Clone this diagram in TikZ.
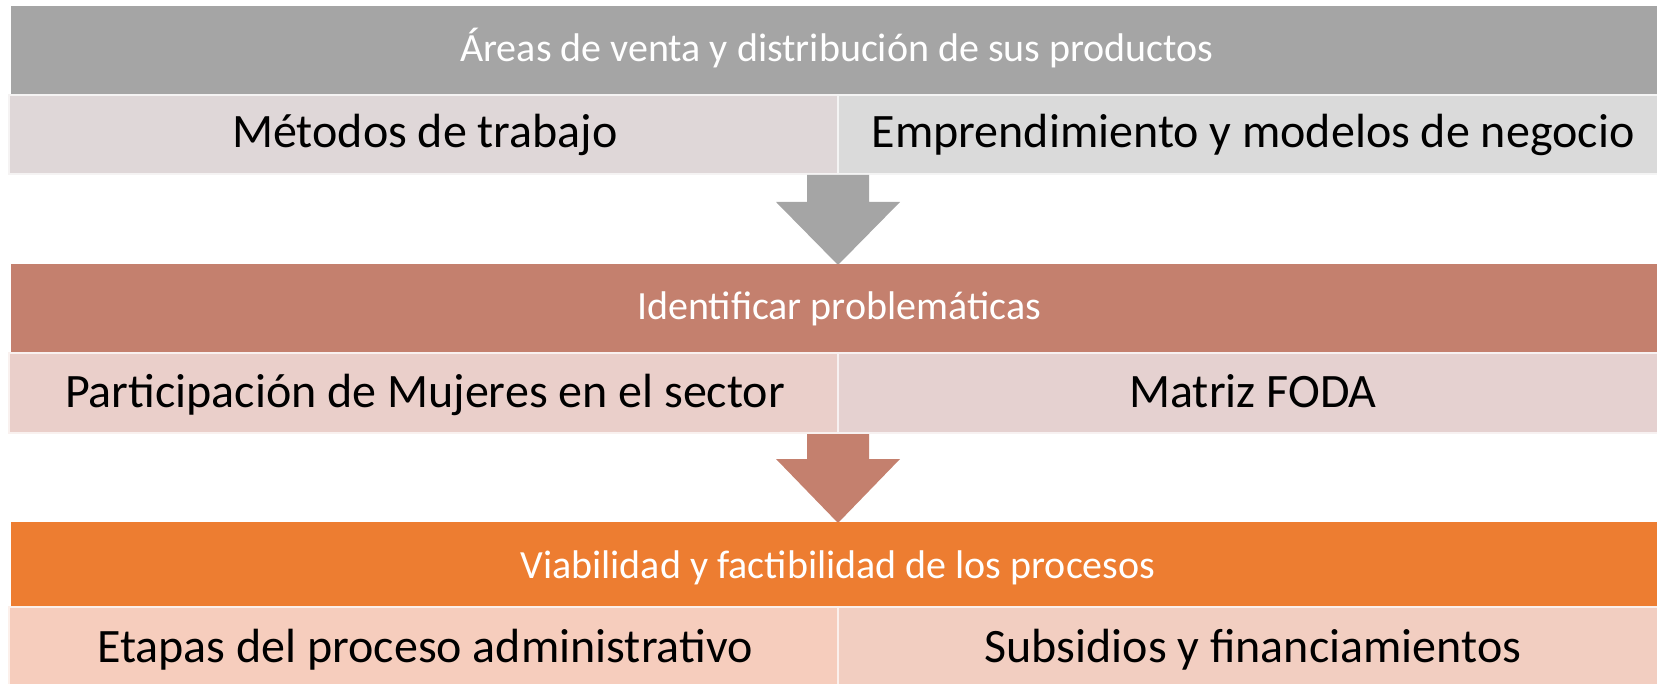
\documentclass[tikz,border=0pt]{standalone}
\usepackage{fontspec}
\setmainfont{Carlito}
\definecolor{hdA}{HTML}{A5A5A5}
\definecolor{hdB}{HTML}{C4806E}
\definecolor{hdC}{HTML}{ED7D31}
\definecolor{cA1}{HTML}{DFD7D8}
\definecolor{cA2}{HTML}{DADADA}
\definecolor{cB1}{HTML}{EACFCA}
\definecolor{cB2}{HTML}{E5D1D0}
\definecolor{cC1}{HTML}{F6CDBD}
\definecolor{cC2}{HTML}{F2CEC1}
\begin{document}
\begin{tikzpicture}[x=1pt,y=-1pt,
  cell/.style={fill=#1,draw=white!70!#1,line width=1.2pt},
  htext/.style={text=white,anchor=base,inner sep=0pt,font=\fontsize{40}{46}\selectfont},
  ctext/.style={text=black,anchor=base,inner sep=0pt,font=\fontsize{48}{56}\selectfont}]
\useasboundingbox (0,0) rectangle (1657,684);
% block 1
\fill[hdA] (11,6) rectangle (1657,95);
\node[htext] (h1) at (837,62) {Áreas de venta y distribución de sus productos};
\draw[cell=cA1] (9,95) rectangle (838,174);
\draw[cell=cA2] (838,95) rectangle (1660,174);
\node[ctext] (c11) at (425,148) {Métodos de trabajo};
\node[ctext] (c12) at (1253,148) {Emprendimiento y modelos de negocio};
% arrow 1
\fill[hdA] (807,175) -- (869,175) -- (869,202) -- (900,202) -- (838,265) -- (776,202) -- (807,202) -- cycle;
% block 2
\fill[hdB] (11,264) rectangle (1657,353);
\node[htext] (h2) at (839,320) {Identificar problemáticas};
\draw[cell=cB1] (9,353) rectangle (838,433);
\draw[cell=cB2] (838,353) rectangle (1660,433);
\node[ctext] (c21) at (425,407) {Participación de Mujeres en el sector};
\node[ctext] (c22) at (1253,407) {Matriz FODA};
% arrow 2
\fill[hdB] (807,434) -- (869,434) -- (869,459) -- (900,459) -- (838,523) -- (776,459) -- (807,459) -- cycle;
% block 3
\fill[hdC] (11,522) rectangle (1657,607);
\node[htext] (h3) at (838,578) {Viabilidad y factibilidad de los procesos};
\draw[cell=cC1] (9,607) rectangle (838,690);
\draw[cell=cC2] (838,607) rectangle (1660,690);
\node[ctext] (c31) at (425,662) {Etapas del proceso administrativo};
\node[ctext] (c32) at (1253,662) {Subsidios y financiamientos};
\end{tikzpicture}
\end{document}
